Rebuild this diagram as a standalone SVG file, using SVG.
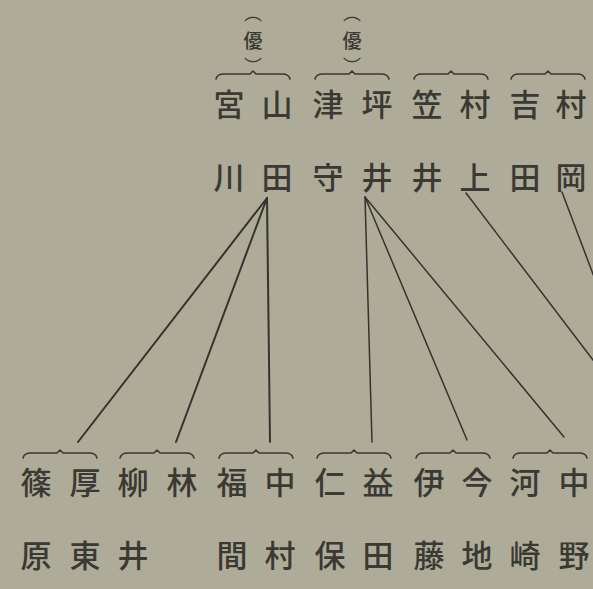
<svg xmlns="http://www.w3.org/2000/svg" width="593" height="589" viewBox="0 0 593 589">
<defs>
<style>
.t{font-family:"Noto Sans CJK JP","Noto Sans CJK SC",sans-serif;font-size:31px;font-weight:500;fill:#3a3933;text-anchor:middle;dominant-baseline:central}
.w{font-family:"Noto Sans CJK JP","Noto Sans CJK SC",sans-serif;font-size:19px;font-weight:500;fill:#3a3933;text-anchor:middle;dominant-baseline:central}
.p{font-family:"Noto Sans CJK JP","Noto Sans CJK SC",sans-serif;font-size:18px;fill:#3a3933;text-anchor:middle;dominant-baseline:central}
.b{fill:none;stroke:#3a3933;stroke-width:1.6;stroke-linecap:round;stroke-linejoin:round}
.c{fill:none;stroke:#34332e;stroke-linecap:round}
</style>
<path id="brace" d="M-37,5 Q-36,0 -29,0 L-3,0 L0,-3 L3,0 L29,0 Q36,0 37,5"/>
</defs>
<rect width="593" height="589" fill="#aeac98"/>

<g id="pair-miyakawa-yamada">
<text class="p" x="253" y="12">︵</text><text class="w" x="253" y="39">優</text><text class="p" x="253" y="65">︶</text>
<use href="#brace" class="b" x="253" y="74"/>
<text class="t" x="229" y="102">宮</text><text class="t" x="229" y="175">川</text>
<text class="t" x="277" y="102">山</text><text class="t" x="277" y="175">田</text>
</g>
<g id="pair-tsumori-tsuboi">
<text class="p" x="352" y="12">︵</text><text class="w" x="352" y="39">優</text><text class="p" x="352" y="65">︶</text>
<use href="#brace" class="b" x="352" y="74"/>
<text class="t" x="328" y="102">津</text><text class="t" x="328" y="175">守</text>
<text class="t" x="377" y="102">坪</text><text class="t" x="377" y="175">井</text>
</g>
<g id="pair-kasai-murakami">
<use href="#brace" class="b" x="451" y="74"/>
<text class="t" x="427" y="102">笠</text><text class="t" x="427" y="175">井</text>
<text class="t" x="475" y="102">村</text><text class="t" x="475" y="175">上</text>
</g>
<g id="pair-yoshida-muraoka">
<use href="#brace" class="b" x="548" y="74"/>
<text class="t" x="525" y="102">吉</text><text class="t" x="525" y="175">田</text>
<text class="t" x="571" y="102">村</text><text class="t" x="571" y="175">岡</text>
</g>

<g id="pair-shinohara-koto">
<use href="#brace" class="b" x="60" y="453"/>
<text class="t" x="36" y="480">篠</text><text class="t" x="36" y="553">原</text>
<text class="t" x="85" y="480">厚</text><text class="t" x="85" y="553">東</text>
</g>
<g id="pair-yanai-hayashi">
<use href="#brace" class="b" x="157" y="453"/>
<text class="t" x="133" y="480">柳</text><text class="t" x="133" y="553">井</text>
<text class="t" x="182" y="480">林</text>
</g>
<g id="pair-fukuma-nakamura">
<use href="#brace" class="b" x="256" y="453"/>
<text class="t" x="232" y="480">福</text><text class="t" x="232" y="553">間</text>
<text class="t" x="280" y="480">中</text><text class="t" x="280" y="553">村</text>
</g>
<g id="pair-niho-masuda">
<use href="#brace" class="b" x="354" y="453"/>
<text class="t" x="330" y="480">仁</text><text class="t" x="330" y="553">保</text>
<text class="t" x="378" y="480">益</text><text class="t" x="378" y="553">田</text>
</g>
<g id="pair-ito-imaji">
<use href="#brace" class="b" x="453" y="453"/>
<text class="t" x="429" y="480">伊</text><text class="t" x="429" y="553">藤</text>
<text class="t" x="477" y="480">今</text><text class="t" x="477" y="553">地</text>
</g>
<g id="pair-kawasaki-nakano">
<use href="#brace" class="b" x="550" y="453"/>
<text class="t" x="525" y="480">河</text><text class="t" x="525" y="553">崎</text>
<text class="t" x="574" y="480">中</text><text class="t" x="574" y="553">野</text>
</g>

<g id="connectors">
<g class="c" stroke-width="2">
<line x1="267" y1="198" x2="78" y2="442"/>
<line x1="267" y1="198" x2="176" y2="442"/>
<line x1="267" y1="198" x2="270" y2="442"/>
</g>
<g class="c" stroke-width="1.5">
<line x1="365" y1="197" x2="372" y2="442"/>
<line x1="365" y1="197" x2="467" y2="440"/>
<line x1="365" y1="197" x2="564" y2="437"/>
<line x1="466" y1="193" x2="596" y2="364"/>
<line x1="562" y1="192" x2="596" y2="282"/>
</g>
</g>
</svg>
